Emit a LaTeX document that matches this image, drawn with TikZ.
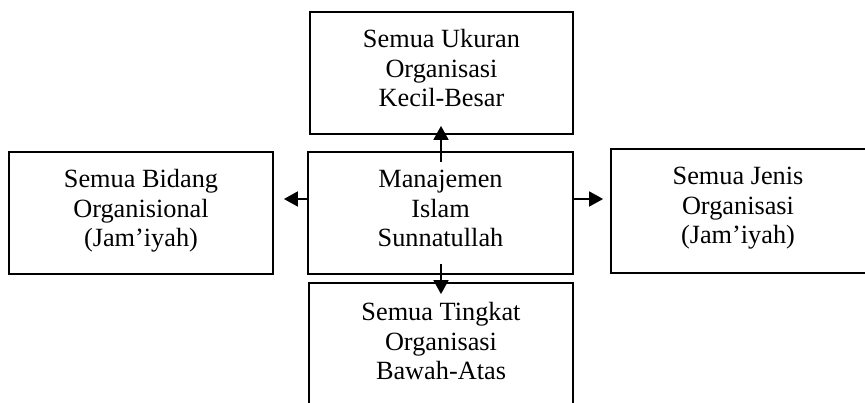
\documentclass[tikz,border=0pt]{standalone}
\usepackage{fontspec}
\setmainfont{Liberation Serif}
\usetikzlibrary{arrows.meta}
\begin{document}
\begin{tikzpicture}[x=1pt,y=-1pt,
  box/.style={draw=black, line width=1.8pt, rectangle, inner sep=0pt, minimum height=122pt},
  txt/.style={align=center, inner sep=0pt, anchor=base, font=\fontsize{26.3}{29.5}\selectfont},
  arr/.style={line width=1.8pt, -{Triangle[length=14pt,width=15pt]}}]
\useasboundingbox (0,0) rectangle (865,403);
\clip (0,0) rectangle (865,403);
% boxes
\node[box, minimum width=263pt] (top) at (441.5,73) {};
\node[box, minimum width=265pt] (ctr) at (440.5,213) {};
\node[box, minimum width=264pt] (lft) at (141,213) {};
\node[box, minimum width=264pt, minimum height=124pt] (rgt) at (743,211) {};
\node[box, minimum width=264pt] (bot) at (441,344) {};
% texts (anchored at the baseline of the last line)
\node[txt] (toptxt) at (441.5,107) {Semua Ukuran\\Organisasi\\Kecil-Besar};
\node[txt] (ctrtxt) at (440.5,247) {Manajemen\\Islam\\Sunnatullah};
\node[txt] (lfttxt) at (141,247) {Semua Bidang\\Organisional\\(Jam’iyah)};
\node[txt] (rgttxt) at (738,244) {Semua Jenis\\Organisasi\\(Jam’iyah)};
\node[txt] (bottxt) at (441,380) {Semua Tingkat\\Organisasi\\Bawah-Atas};
% arrows
\draw[arr] ([xshift=0.5pt,yshift=-11pt]ctr.north) -- ([xshift=-0.5pt,yshift=9pt]top.south);
\draw[arr] ([xshift=0.5pt,yshift=11pt]ctr.south) -- ([yshift=-12pt]bot.north);
\draw[arr] ([yshift=14pt]ctr.west) -- ([xshift=10pt,yshift=14pt]lft.east);
\draw[arr] ([yshift=14pt]ctr.east) -- ([xshift=-7pt,yshift=12pt]rgt.west);
\end{tikzpicture}
\end{document}
